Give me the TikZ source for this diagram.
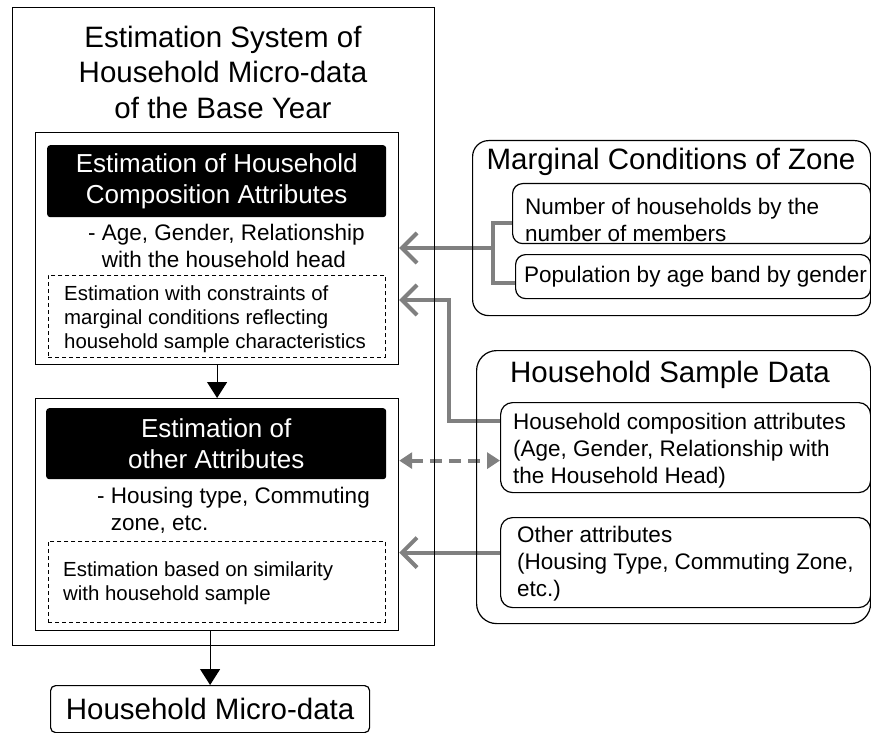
\documentclass[tikz,border=0pt]{standalone}
\usepackage{fontspec}
\setmainfont{Liberation Sans}
\usetikzlibrary{arrows.meta,backgrounds}
\definecolor{arrowgray}{RGB}{128,128,128}
\tikzset{
  box/.style={draw=black,line width=1.2pt,anchor=north west,inner sep=0pt},
  hdr/.style={fill=black,rounded corners=3pt,anchor=north west,inner sep=0pt,
    text=white,align=center,font=\fontsize{26}{31}\selectfont},
  dashbox/.style={draw=black,line width=0.9pt,dash pattern=on 4pt off 3pt,
    anchor=north west,inner sep=0pt},
  bigtxt/.style={font=\fontsize{29.5}{35.5}\selectfont,align=center,inner sep=0pt},
  midtxt/.style={font=\fontsize{22.5}{27}\selectfont,align=left,inner sep=0pt,anchor=west},
  smalltxt/.style={font=\fontsize{20.4}{24}\selectfont,align=left,inner sep=0pt,anchor=west},
  garrow/.style={draw=arrowgray,line width=4pt,-{Straight Barb[length=15pt,width=30pt]}},
  gline/.style={draw=arrowgray,line width=4pt},
  gdash/.style={draw=arrowgray,line width=4pt,dash pattern=on 12pt off 7pt,
    {Triangle[length=13pt,width=16pt]}-{Triangle[length=13pt,width=16pt]}},
  barrow/.style={draw=black,line width=1.2pt,-{Triangle[length=16pt,width=20pt]}}
}
\begin{document}
\begin{tikzpicture}[x=1pt,y=-1pt]
  \useasboundingbox (0,0) rectangle (871,733);

  % estimation system
  \node[box,minimum width=422pt,minimum height=638pt] (sys) at (12,7) {};
  \node[bigtxt] (systitle) at (223,72) {Estimation System of\\Household Micro-data\\of the Base Year};

  \node[box,minimum width=363pt,minimum height=232pt] (comp) at (35,132) {};
  \node[hdr,minimum width=339pt,minimum height=72pt] (comphdr) at (47,145)
    {Estimation of Household\\Composition Attributes};
  \node[midtxt] (compitems) at (88,245.5) {-~Age, Gender, Relationship\\\hphantom{-~}with the household head};
  \node[dashbox,minimum width=337pt,minimum height=82pt] (compest) at (48,275) {};
  \node[smalltxt] (compesttxt) at ([xshift=16pt,yshift=-3pt]compest.west)
    {Estimation with constraints of\\marginal conditions reflecting\\household sample characteristics};

  \node[box,minimum width=363pt,minimum height=232pt] (oth) at (35,398) {};
  \node[hdr,minimum width=340pt,minimum height=71pt] (othhdr) at (46,408)
    {Estimation of\\other Attributes};
  \node[midtxt] (othitems) at (97,510) {-~Housing type, Commuting\\\hphantom{-~}zone, etc.};
  \node[dashbox,minimum width=337pt,minimum height=81pt] (othest) at (48,541) {};
  \node[smalltxt] (othesttxt) at ([xshift=15pt,yshift=-1.5pt]othest.west)
    {Estimation based on similarity\\with household sample};

  \node[box,rounded corners=5pt,minimum width=319pt,minimum height=47pt,
    font=\fontsize{29.5}{35.5}\selectfont] (micro) at (50,685) {Household Micro-data};

  % marginal conditions
  \node[box,rounded corners=16pt,minimum width=398pt,minimum height=175pt] (marg) at (472,140) {};
  \node[bigtxt] (margtitle) at (671,162) {Marginal Conditions of Zone};
  \node[box,rounded corners=10pt,minimum width=358pt,minimum height=60pt] (nhh) at (512,183) {};
  \node[midtxt] (nhhtxt) at ([xshift=13pt,yshift=-6pt]nhh.west) {Number of households by the\\number of members};
  \node[box,rounded corners=10pt,minimum width=355pt,minimum height=44pt] (pop) at (515,254) {};
  \node[midtxt] (poptxt) at ([xshift=9pt]pop.west) {Population by age band by gender};

  % household sample
  \node[box,rounded corners=20pt,minimum width=394pt,minimum height=273pt] (smp) at (476,350) {};
  \node[bigtxt] (smptitle) at (670,375) {Household Sample Data};
  \node[box,rounded corners=12pt,minimum width=370pt,minimum height=90pt] (hca) at (500,402) {};
  \node[midtxt] (hcatxt) at ([xshift=13pt,yshift=-3pt]hca.west)
    {Household composition attributes\\(Age, Gender, Relationship with\\the Household Head)};
  \node[box,rounded corners=12pt,minimum width=370pt,minimum height=90pt] (oat) at (500,517) {};
  \node[midtxt] (oattxt) at ([xshift=17pt,yshift=-1pt]oat.west)
    {Other attributes\\(Housing Type, Commuting Zone,\\etc.)};

  \coordinate (brk) at (493,248);
  \coordinate (bend) at (449,300);

  \begin{scope}[on background layer]
    \draw[gline] ([yshift=-9pt]nhh.west) -| (brk) |- ([yshift=-6pt]pop.west);
    \draw[garrow] (brk) -- (brk -| comp.east);
    \draw[garrow] ([yshift=27pt]hca.west) -| (bend) -- (bend -| comp.east);
    \draw[gdash] ([yshift=-13pt]hca.west -| oth.east) -- ([yshift=-13pt]hca.west);
    \draw[garrow] ([yshift=10pt]oat.west) -- ([yshift=10pt]oat.west -| oth.east);
    \draw[barrow] (comp.south) -- (oth.north);
    \draw[barrow] (oth.south -| micro.north) -- (micro.north);
  \end{scope}
\end{tikzpicture}
\end{document}
